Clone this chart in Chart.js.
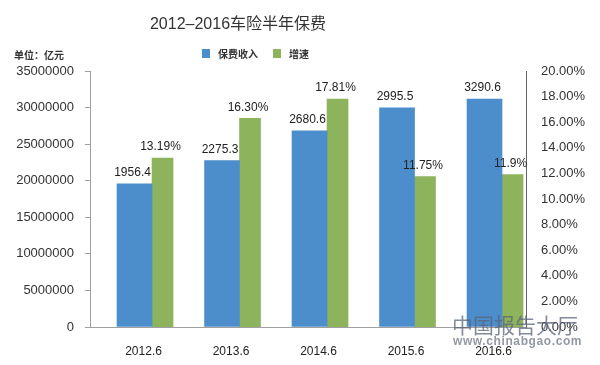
<!DOCTYPE html>
<html>
<head>
<meta charset="utf-8">
<script src="https://cdn.jsdelivr.net/npm/chart.js@4.4.1/dist/chart.umd.min.js"></script>
<style>
  html, body { margin: 0; padding: 0; background: #fff; }
  #wrap { position: relative; width: 600px; height: 365px; font-family: "Liberation Sans", "Noto Sans CJK SC", sans-serif; }
  #chart { position: absolute; left: 0; top: 0; }
  .title { position: absolute; left: 0; top: 10px; width: 476px; text-align: center; font-size: 16px; color: #333; }
  .unit { position: absolute; left: 14px; top: 47px; font-size: 10px; font-weight: bold; color: #333; }
  #legend { position: absolute; left: 202px; top: 46px; font-size: 10px; font-weight: bold; color: #333; display: flex; align-items: center; }
  #legend span.box { display: inline-block; width: 8px; height: 9px; margin-right: 8px; }
  #legend span.txt { margin-right: 15px; }
  .wm1 { position: absolute; left: 452px; top: 309px; font-size: 21px; color: rgba(90,100,120,0.75); letter-spacing: 0px; }
  .wm2 { position: absolute; left: 453px; top: 334px; font-size: 12px; font-weight: bold; color: rgba(100,110,125,0.7); letter-spacing: 0.6px; }
</style>
</head>
<body>
<div id="wrap">
  <canvas id="chart" width="600" height="365"></canvas>
  <div class="title">2012–2016车险半年保费</div>
  <div class="unit">单位：亿元</div>
  <div id="legend"></div>
  <div class="wm1">中国报告大厅</div>
  <div class="wm2">www.chinabgao.com</div>
</div>
<script>
  // values
  const categories = ["2012.6", "2013.6", "2014.6", "2015.6", "2016.6"];
  const premium = [19564000, 22753000, 26806000, 29955000, 31170000];
  const premiumLabels = ["1956.4", "2275.3", "2680.6", "2995.5", "3290.6"];
  const growth = [13.19, 16.3, 17.81, 11.75, 11.9];
  const growthLabels = ["13.19%", "16.30%", "17.81%", "11.75%", "11.9%"];

  const blue = "rgb(76, 141, 203)";
  const green = "rgb(141, 179, 92)";

  // value labels above each bar
  const barLabels = {
    id: "barLabels",
    afterDatasetsDraw(chart) {
      const ctx = chart.ctx;
      ctx.save();
      ctx.font = '12px "Liberation Sans", Arial, sans-serif';
      ctx.fillStyle = "#222";
      ctx.textAlign = "center";
      ctx.textBaseline = "bottom";
      [premiumLabels, growthLabels].forEach((labels, d) => {
        chart.getDatasetMeta(d).data.forEach((bar, i) => {
          ctx.fillText(labels[i], bar.x - 2, bar.y - 5);
        });
      });
      ctx.restore();
    },
  };

  const ctx = document.getElementById("chart");
  const chart = new Chart(ctx, {
    type: "bar",
    data: {
      datasets: [
        {
          label: "保费收入",
          backgroundColor: blue,
          barThickness: 35,
          yAxisID: "y",
          data: premium.map((v, i) => ({ x: i, y: v })),
        },
        {
          label: "增速",
          backgroundColor: green,
          barThickness: 21,
          yAxisID: "y1",
          data: growth.map((v, i) => ({ x: i, y: v })),
        },
      ],
    },
    options: {
      responsive: false,
      animation: false,
      layout: { padding: { top: 71, left: 0, right: 0, bottom: 0 } },
      plugins: {
        legend: { display: false },
        title: { display: false },
        tooltip: { enabled: false },
      },
      scales: {
        x: {
          type: "linear",
          min: -0.709,
          max: 4.274,
          offset: false,
          grid: { display: false, offset: false },
          border: { display: true, color: "#a0a0a0" },
          afterBuildTicks: (s) => {
            s.ticks = categories.map((c, i) => ({ value: i }));
          },
          afterFit: (s) => {
            s.height = 38;
          },
          ticks: {
            callback: (v) => categories[v],
            font: { size: 12, family: '"Liberation Sans", Arial, sans-serif' },
            color: "#222",
            padding: 9,
            labelOffset: -8.5,
            maxRotation: 0,
          },
        },
        y: {
          position: "left",
          min: 0,
          max: 35000000,
          grid: { display: true, drawOnChartArea: false, drawTicks: true, tickLength: 5, color: "#a0a0a0" },
          border: { display: true, color: "#a0a0a0" },
          afterFit: (s) => {
            s.width = 90;
          },
          ticks: {
            stepSize: 5000000,
            callback: (v) => String(v),
            font: { size: 13, family: '"Liberation Sans", Arial, sans-serif' },
            color: "#333",
            padding: 11,
          },
        },
        y1: {
          position: "right",
          min: 0,
          max: 20,
          grid: { display: false },
          border: { display: true, color: "#666" },
          afterFit: (s) => {
            s.width = 74;
          },
          ticks: {
            stepSize: 2,
            callback: (v) => v.toFixed(2) + "%",
            font: { size: 13, family: '"Liberation Sans", Arial, sans-serif' },
            color: "#333",
            padding: 7,
          },
        },
      },
    },
    plugins: [barLabels],
  });

  // legend built from the datasets
  const legend = document.getElementById("legend");
  chart.data.datasets.forEach((ds) => {
    const box = document.createElement("span");
    box.className = "box";
    box.style.background = ds.backgroundColor;
    const txt = document.createElement("span");
    txt.className = "txt";
    txt.textContent = ds.label;
    legend.appendChild(box);
    legend.appendChild(txt);
  });
</script>
</body>
</html>
